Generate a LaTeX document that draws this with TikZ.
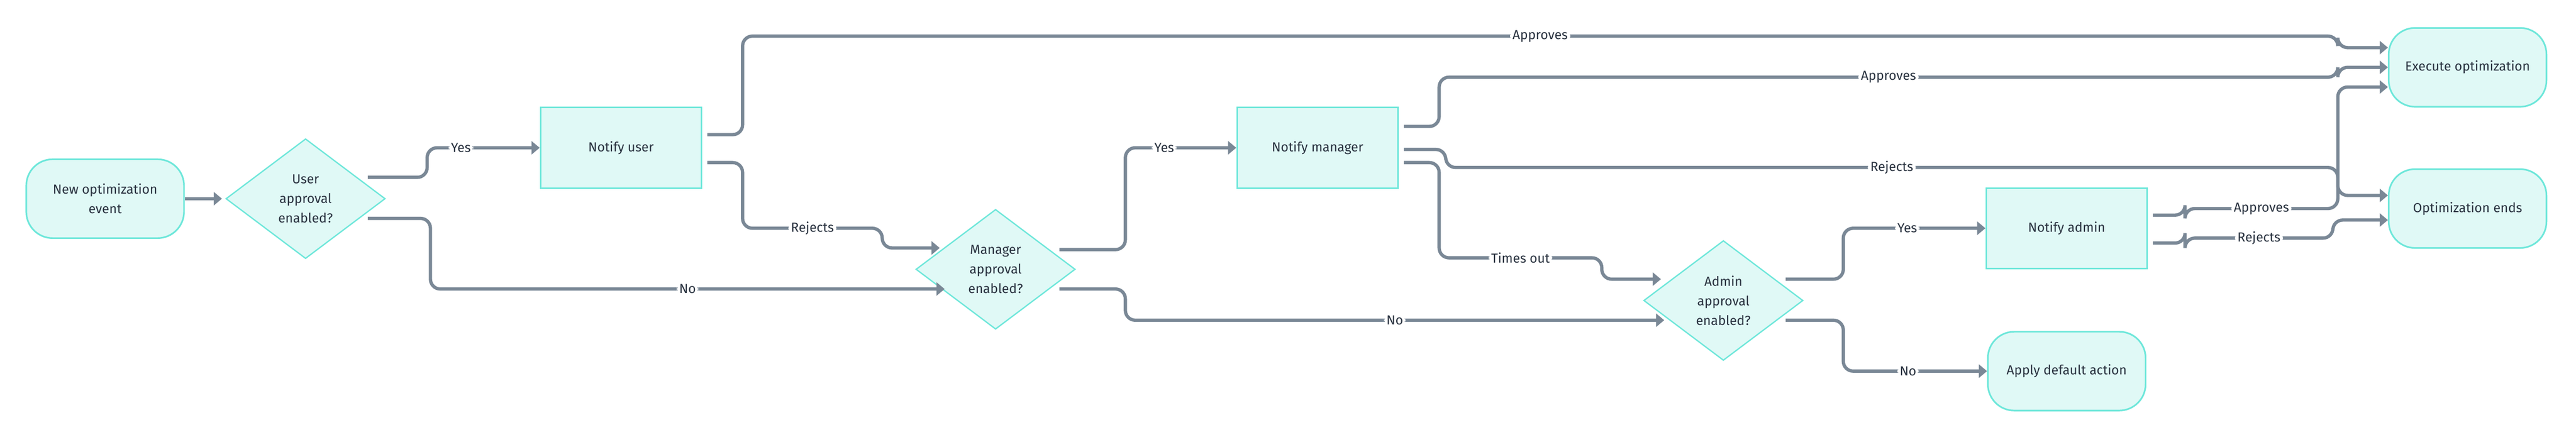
\documentclass[tikz,border=0pt]{standalone}
\usepackage{fontspec}
\setmainfont{Fira Sans}
\usetikzlibrary{shapes.geometric,arrows.meta}
\definecolor{fillc}{HTML}{E0F9F6}
\definecolor{edgec}{HTML}{6EE7DA}
\definecolor{linec}{HTML}{7A8896}
\definecolor{txt}{HTML}{2A3340}
\begin{document}
\begin{tikzpicture}[x=1pt,y=-1pt,
  every node/.style={font=\fontsize{8}{12}\selectfont, text=txt},
  term/.style={draw=edgec, fill=fillc, line width=1pt, rounded corners=16pt, minimum width=96pt, minimum height=48pt, align=center},
  proc/.style={draw=edgec, fill=fillc, line width=1pt, minimum width=98pt, minimum height=49pt, align=center},
  dec/.style={diamond, draw=edgec, fill=fillc, line width=0.8pt, minimum width=97pt, minimum height=73pt, inner sep=0pt, align=center},
  conn/.style={draw=linec, line width=2pt, rounded corners=6pt, -{Triangle[length=5pt,width=8pt]}},
  lab/.style={fill=white, inner sep=1.5pt}]
\path[use as bounding box] (0,0) rectangle (1568,272);
\node[term] (start) at (64,121) {New optimization\\event};
\node[dec] (d1) at (186,121) {User\\approval\\enabled?};
\node[proc] (nu) at (378,90) {Notify user};
\node[dec] (d2) at (606,164) {Manager\\approval\\enabled?};
\node[proc] (nm) at (802,90) {Notify manager};
\node[dec] (d3) at (1049,183) {Admin\\approval\\enabled?};
\node[proc] (na) at (1258,139) {Notify admin};
\node[term] (def) at (1258,226) {Apply default action};
\node[term] (exe) at (1502,41) {Execute optimization};
\node[term] (end) at (1502,127) {Optimization ends};

\draw[conn] (start.east) -- ([xshift=-2pt]d1.west);
\draw[conn] ([xshift=-11pt,yshift=13pt]d1.east) -- (260,108) -- (260,90) -- node[lab,pos=0.3]{Yes} (nu.west);
\draw[conn] ([xshift=-11pt,yshift=-12pt]d1.east) -- (262,133) -- (262,176) -- node[lab]{No} (575,176);
\draw[conn] ([xshift=3pt,yshift=8pt]nu.east) -- (452,82) -- (452,22) -- node[lab]{Approves} (1423,22) -- (1423,29) -- ([yshift=12pt]exe.west);
\draw[conn] ([xshift=3pt,yshift=-9pt]nu.east) -- (452,99) -- (452,139) -- node[lab]{Rejects} (537,139) -- (537,151) -- (572,151);
\draw[conn] ([xshift=-10pt,yshift=12pt]d2.east) -- (685,152) -- (685,90) -- node[lab,pos=0.35]{Yes} (nm.west);
\draw[conn] ([xshift=-10pt,yshift=-12pt]d2.east) -- (685,176) -- (685,195) -- node[lab]{No} (1013,195);
\draw[conn] ([xshift=3pt,yshift=13pt]nm.east) -- (876,77) -- (876,47) -- node[lab]{Approves} (1423,47) -- (1423,41) -- (exe.west);
\draw[conn] ([xshift=3pt,yshift=-1pt]nm.east) -- (880,91) -- (880,102) -- node[lab]{Rejects} (1423,102) -- (1423,119) -- ([yshift=8pt]end.west);
\draw[conn] ([xshift=3pt,yshift=-9pt]nm.east) -- (876,99) -- (876,157) -- node[lab]{Times out} (975,157) -- (975,170) -- (1011,170);
\draw[conn] ([xshift=-11pt,yshift=13pt]d3.east) -- (1122,170) -- (1122,139) -- node[lab,pos=0.45]{Yes} (na.west);
\draw[conn] ([xshift=-11pt,yshift=-12pt]d3.east) -- (1122,195) -- (1122,226) -- node[lab,pos=0.45]{No} (def.west);
\draw[conn] ([xshift=3pt,yshift=8pt]na.east) -- (1330,131) -- (1330,127) -- node[lab]{Approves} (1423,127) -- (1423,53) -- ([yshift=-12pt]exe.west);
\draw[conn] ([xshift=3pt,yshift=-9pt]na.east) -- (1330,148) -- (1330,145) -- node[lab]{Rejects} (1420,145) -- (1420,134) -- ([yshift=-7pt]end.west);
\end{tikzpicture}
\end{document}
